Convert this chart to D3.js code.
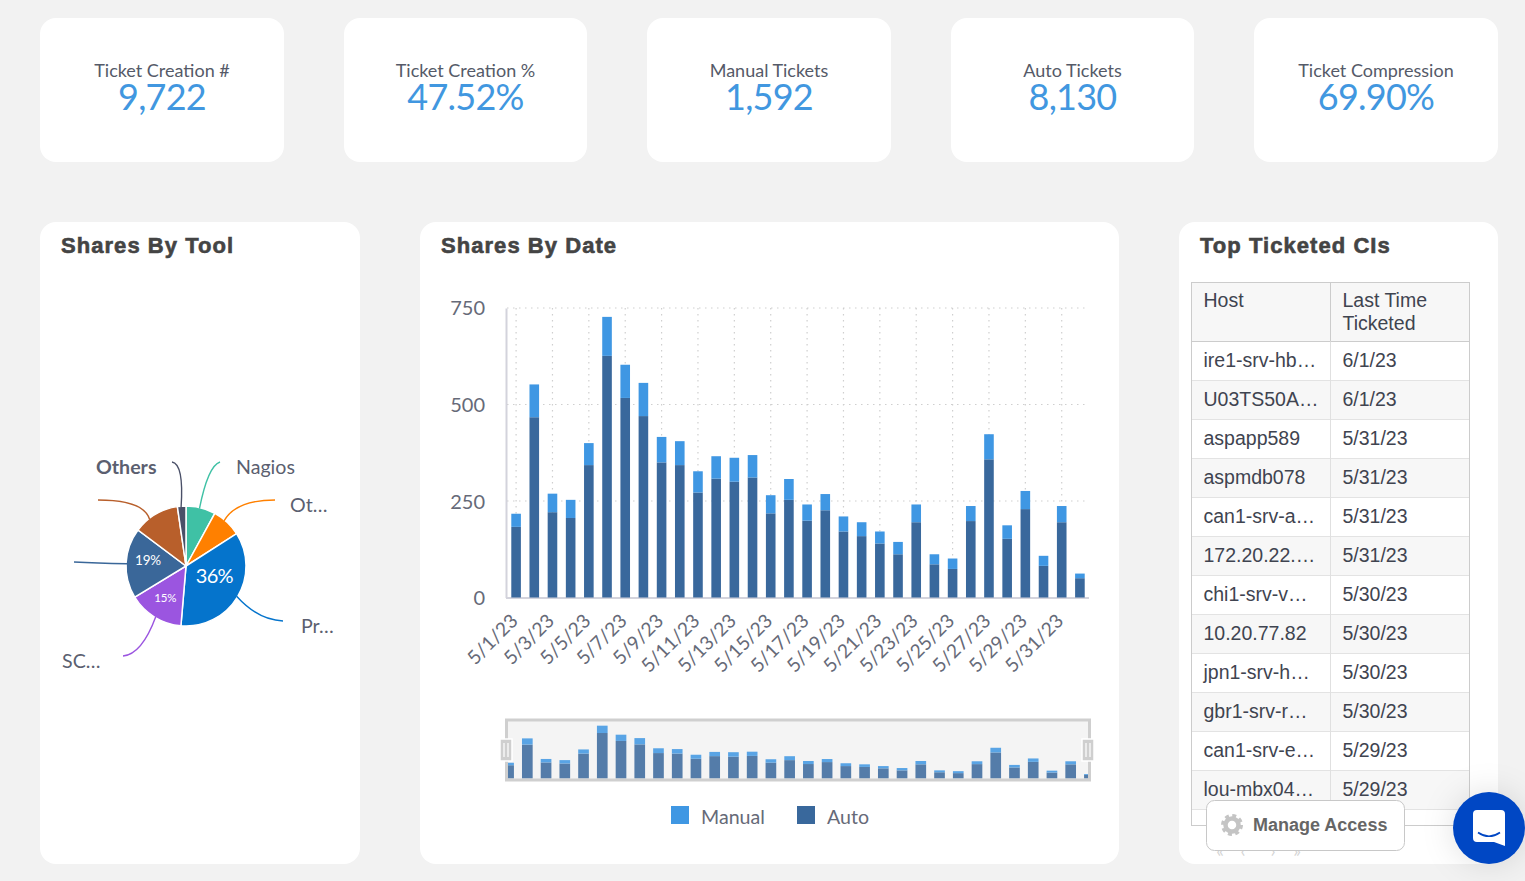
<!DOCTYPE html>
<html><head><meta charset="utf-8">
<script src="https://cdn.jsdelivr.net/npm/d3@7/dist/d3.min.js"></script>
<style>
html,body{margin:0;padding:0;background:#f2f2f2;overflow:hidden}
svg{display:block}
text{font-family:Lato,sans-serif}
.title{font-family:"Liberation Sans",Arial,sans-serif;font-weight:700;font-size:22px;letter-spacing:1.05px;fill:#444;stroke:#444;stroke-width:.6px}
.tbl{font-family:"Liberation Sans",Arial,sans-serif;font-size:19.5px;fill:#3f4450}
</style></head><body>
<svg id="c" width="1525" height="881"></svg>
<script>
// ---------- data ----------
const kpiTitles = ["Ticket Creation #","Ticket Creation %","Manual Tickets","Auto Tickets","Ticket Compression"];
const kpiValues = ["9,722","47.52%","1,592","8,130","69.90%"];
const dates = ["5/1/23","5/2/23","5/3/23","5/4/23","5/5/23","5/6/23","5/7/23","5/8/23","5/9/23","5/10/23","5/11/23","5/12/23","5/13/23","5/14/23","5/15/23","5/16/23","5/17/23","5/18/23","5/19/23","5/20/23","5/21/23","5/22/23","5/23/23","5/24/23","5/25/23","5/26/23","5/27/23","5/28/23","5/29/23","5/30/23","5/31/23","6/1/23"];
const autoVals = [183,467,221,206,343,626,517,470,350,343,272,308,300,311,218,253,199,226,171,159,140,112,195,86,74,198,358,152,229,82,195,50];
const manualVals = [34,85,48,47,57,101,86,86,66,62,55,58,62,58,47,54,42,42,39,36,31,32,46,26,27,39,65,35,47,26,42,12];
const toolNames = ["Nagios","Ot…","Pr…","SC…","","","Others"];
const toolShares = [8,8,35.5,15,19,12.5,2.3];
const toolPct = ["","","36%","15%","19%","",""];
const hosts = ["ire1-srv-hb…","U03TS50A…","aspapp589","aspmdb078","can1-srv-a…","172.20.22.…","chi1-srv-v…","10.20.77.82","jpn1-srv-h…","gbr1-srv-r…","can1-srv-e…","lou-mbx04…"];
const lastTicketed = ["6/1/23","6/1/23","5/31/23","5/31/23","5/31/23","5/31/23","5/30/23","5/30/23","5/30/23","5/30/23","5/29/23","5/29/23"];
const yTicks = [0,250,500,750];

// ---------- layout / style ----------
const svg = d3.select("#c");
const cM="#3f97e3", cA="#39689c", gridC="#cfcfcf", axisTxt="#666a78";
const toolColors = ["#3fc1a5","#ff8000","#0574cc","#9b55e0","#3a6799","#b85f2b","#4a5068"];

const kpiX=[40,344,647,951,1254], kpiW=[244,243,244,243,244];
const kpi = svg.selectAll("g.kpi").data(kpiTitles).join("g").attr("class","kpi");
kpi.append("rect").attr("x",(d,i)=>kpiX[i]).attr("y",18).attr("width",(d,i)=>kpiW[i]).attr("height",144).attr("rx",16).attr("fill","#fff");
kpi.append("text").attr("x",(d,i)=>kpiX[i]+kpiW[i]/2).attr("y",77).attr("text-anchor","middle").attr("font-size",18).attr("fill","#555a68").text(d=>d);
kpi.append("text").attr("x",(d,i)=>kpiX[i]+kpiW[i]/2).attr("y",110).attr("text-anchor","middle").attr("font-size",36).attr("letter-spacing",-.75).attr("fill","#4197e0").text((d,i)=>kpiValues[i]);

[[40,320,"Shares By Tool",61],[420,699,"Shares By Date",441],[1179,319,"Top Ticketed CIs",1200]].forEach(([x,w,t,tx])=>{
  svg.append("rect").attr("x",x).attr("y",222).attr("width",w).attr("height",642).attr("rx",16).attr("fill","#fff");
  svg.append("text").attr("class","title").attr("x",tx).attr("y",253).text(t);
});

// ---------- pie ----------
const cx=186, cy=566, R=60;
const pie = d3.pie().sort(null).value(d=>d)(toolShares);
const arc = d3.arc().innerRadius(0).outerRadius(R);
const pg = svg.append("g").attr("transform",`translate(${cx},${cy})`);
pg.selectAll("path").data(pie).join("path").attr("d",arc).attr("fill",(d,i)=>toolColors[i]).attr("stroke","#fff").attr("stroke-width",1.5);

const leaderEnd=[[34,-104],[89,-66],[97,55],[-63,90],[-112,-4],[-88,-66],[-14,-104]];
const leaderCtl=[[22,-100],[50,-66],[72,54],[-44,88],[-90,-3],[-42,-66],[-2,-102]];
const leaderAng=[.23,.70,2.11,3.68,4.75,5.62,6.2];
leaderEnd.forEach((e,i)=>{
  const s=d3.pointRadial(leaderAng[i],R-1);
  const p=d3.path(); p.moveTo(s[0],s[1]); p.quadraticCurveTo(leaderCtl[i][0],leaderCtl[i][1],e[0],e[1]);
  pg.append("path").attr("d",p.toString()).attr("fill","none").attr("stroke",toolColors[i]).attr("stroke-width",1.4);
});
const nameX=[236,290,301,62,0,0,96], nameY=[474,512,633,668,0,0,474];
toolNames.forEach((n,i)=>{ if(!n) return;
  svg.append("text").attr("x",nameX[i]).attr("y",nameY[i]).attr("font-size",19.6).attr("font-weight",i===6?700:400).attr("fill","#5b5f70").text(n);
});
const pctSize=[0,0,20,11.5,13.5,0,0], pctR=[0,0,30,38,38.5,0,0], pctAng=[0,0,1.9,3.72,4.87,0,0], pctLs=[0,0,-.7,-.2,-.2,0,0];
toolPct.forEach((t,i)=>{ if(!t) return;
  const q=d3.pointRadial(pctAng[i],pctR[i]);
  pg.append("text").attr("x",q[0]).attr("y",q[1]).attr("dy",".36em").attr("text-anchor","middle").attr("font-size",pctSize[i]).attr("letter-spacing",pctLs[i]).attr("fill","#fff").text(t);
});

// ---------- main stacked bars ----------
const x = d3.scaleBand().domain(dates).range([507,1089]).paddingInner(.5).paddingOuter(.25);
const y = d3.scaleLinear().domain([0,750]).range([597.5,308]);
const g = svg.append("g");
// grid
g.selectAll("line.h").data(yTicks.slice(1)).join("line").attr("x1",507).attr("x2",1087).attr("y1",d=>y(d)).attr("y2",d=>y(d)).attr("stroke",gridC).attr("stroke-dasharray","1.5,4.5").attr("stroke-width",1.2);
const oddDates = dates.filter((d,i)=>i%2===0);
g.selectAll("line.v").data(oddDates).join("line").attr("x1",d=>x(d)+x.bandwidth()/2).attr("x2",d=>x(d)+x.bandwidth()/2).attr("y1",308).attr("y2",597).attr("stroke",gridC).attr("stroke-dasharray","1.5,4.5").attr("stroke-width",1.2);
// axes
const ya = g.append("g").attr("transform","translate(506,0)").call(d3.axisLeft(y).tickValues(yTicks).tickSize(0).tickPadding(21));
ya.select(".domain").attr("stroke","#d3d3dc").attr("stroke-width",2);
ya.selectAll("text").attr("font-size",20).attr("fill",axisTxt).style("font-family","Lato").attr("transform",d=>`translate(0,${d===750?0:1})`);
const xa = g.append("g").attr("transform","translate(0,598)").call(d3.axisBottom(x).tickValues(oddDates).tickSize(0).tickPadding(0));
xa.select(".domain").attr("stroke","#d3d3dc").attr("stroke-width",2).attr("d","M506,0H1089");
xa.selectAll("text").attr("font-size",19.2).attr("fill",axisTxt).style("font-family","Lato").attr("text-anchor","end").attr("dy",0).attr("transform","translate(3,24) rotate(-45)");
// bars
const w = 9.6;
const bc = d=>x(d)+x.bandwidth()/2-w/2;
g.selectAll("rect.a").data(dates).join("rect").attr("x",bc).attr("width",w).attr("y",(d,i)=>y(autoVals[i])).attr("height",(d,i)=>y(0)-y(autoVals[i])).attr("fill",cA);
g.selectAll("rect.m").data(dates).join("rect").attr("x",bc).attr("width",w).attr("y",(d,i)=>y(autoVals[i]+manualVals[i])).attr("height",(d,i)=>y(autoVals[i])-y(autoVals[i]+manualVals[i])).attr("fill",cM);

// ---------- navigator ----------
const nx = d3.scaleBand().domain(dates).range([499.5,1098.5]).paddingInner(.43).paddingOuter(.2);
const ny = d3.scaleLinear().domain([0,750]).range([778.5,724]);
const n = svg.append("g");
svg.append("clipPath").attr("id","nav").append("rect").attr("x",507).attr("y",720).attr("width",582).attr("height",60);
n.append("rect").attr("x",507).attr("y",720).attr("width",582).attr("height",60).attr("fill","#f4f4f4");
const nb = n.append("g").attr("clip-path","url(#nav)").attr("opacity",.85);
nb.selectAll("rect.a").data(dates).join("rect").attr("x",d=>nx(d)).attr("width",nx.bandwidth()).attr("y",(d,i)=>ny(autoVals[i])).attr("height",(d,i)=>ny(0)-ny(autoVals[i])).attr("fill",cA);
nb.selectAll("rect.m").data(dates).join("rect").attr("x",d=>nx(d)).attr("width",nx.bandwidth()).attr("y",(d,i)=>ny(autoVals[i]+manualVals[i])).attr("height",(d,i)=>ny(autoVals[i])-ny(autoVals[i]+manualVals[i])).attr("fill",cM);
n.append("path").attr("d","M506.5,745V720H1089.5V745").attr("fill","none").attr("stroke","#cfcfcf").attr("stroke-width",3);
n.append("path").attr("d","M506.5,755V780H1089.5V755").attr("fill","none").attr("stroke","#cfcfcf").attr("stroke-width",3);
[506,1088].forEach(hx=>{
  n.append("rect").attr("x",hx-6).attr("y",739).attr("width",12).attr("height",22).attr("fill","#cfcfcf").attr("stroke","#fff").attr("stroke-width",1.5);
  [-2,2].forEach(o=>n.append("line").attr("x1",hx+o).attr("x2",hx+o).attr("y1",743).attr("y2",757).attr("stroke","#fff").attr("stroke-width",1.2));
});

// legend
const legNames=["Manual","Auto"], legCol=[cM,cA], legX=[671,797];
legNames.forEach((t,i)=>{
  svg.append("rect").attr("x",legX[i]).attr("y",806).attr("width",18).attr("height",18).attr("fill",legCol[i]);
  svg.append("text").attr("x",legX[i]+30).attr("y",824).attr("font-size",19.6).attr("fill",axisTxt).text(t);
});

// ---------- table ----------
const tx0=1191.5, tx1=1330.5, tx2=1469.5, ty0=282.5, ty1=341.5, rh=39, tyEnd=825.5;
const t = svg.append("g");
t.append("rect").attr("x",tx0).attr("y",ty0).attr("width",tx2-tx0).attr("height",ty1-ty0).attr("fill","#f7f7f7");
const rowY=d3.scaleLinear().domain([0,1]).range([ty1,ty1+rh]);
t.selectAll("rect.r").data(hosts).join("rect").attr("x",tx0).attr("width",tx2-tx0).attr("y",(d,i)=>rowY(i)).attr("height",rh).attr("fill",(d,i)=>i%2?"#f7f7f7":"#fff");
t.selectAll("line.r").data(d3.range(0,13)).join("line").attr("x1",tx0).attr("x2",tx2).attr("y1",d=>rowY(d)).attr("y2",d=>rowY(d)).attr("stroke",d=>d===0?"#ccc":"#e3e3e3").attr("stroke-width",1);
t.append("line").attr("x1",tx1).attr("x2",tx1).attr("y1",ty0).attr("y2",tyEnd).attr("stroke","#e0e0e0");
t.append("line").attr("x1",tx1).attr("x2",tx1).attr("y1",ty0).attr("y2",ty1).attr("stroke","#ccc");
t.append("rect").attr("x",tx0).attr("y",ty0).attr("width",tx2-tx0).attr("height",tyEnd-ty0).attr("fill","none").attr("stroke","#ccc");
const hdr=(s,x0,yy)=>t.append("text").attr("class","tbl").attr("x",x0).attr("y",yy).text(s);
hdr("Host",1203.5,307); hdr("Last Time",1342.5,307); hdr("Ticketed",1342.5,330);
t.selectAll("text.h").data(hosts).join("text").attr("class","tbl").attr("x",1203.5).attr("y",(d,i)=>rowY(i)+25.5).text(d=>d);
t.selectAll("text.d").data(lastTicketed).join("text").attr("class","tbl").attr("x",1342.5).attr("y",(d,i)=>rowY(i)+25.5).text(d=>d);

// pagination remnants + button
["«","‹","›","»"].forEach((c,i)=>svg.append("text").attr("x",[1220,1243,1273,1297][i]).attr("y",857).attr("text-anchor","middle").attr("font-size",18).attr("fill","#d5d5d5").text(c));
const b = svg.append("g");
b.append("rect").attr("x",1206.5).attr("y",800.5).attr("width",198).attr("height",50).attr("rx",8).attr("fill","#fff").attr("stroke","#c8c8c8");
b.append("circle").attr("cx",1232).attr("cy",825).attr("r",6.5).attr("fill","none").attr("stroke","#c4c4c4").attr("stroke-width",4.5);
b.append("circle").attr("cx",1232).attr("cy",825).attr("r",9.5).attr("fill","none").attr("stroke","#c4c4c4").attr("stroke-width",3).attr("stroke-dasharray","4 3.46");
b.append("text").attr("x",1253).attr("y",831).style("font-family","'Liberation Sans',Arial").attr("font-weight",700).attr("font-size",18).attr("fill","#666").text("Manage Access");

// chat launcher
const ch = svg.append("g");
ch.append("circle").attr("cx",1489).attr("cy",828).attr("r",36).attr("fill","#0047c4").style("filter","drop-shadow(0 0 16px rgba(0,0,0,.12))");
ch.append("path").attr("d","M1477,810H1501A4,4 0 0 1 1505,814V846L1494,842H1477A4,4 0 0 1 1473,838V814A4,4 0 0 1 1477,810Z").attr("fill","#fff");
ch.append("path").attr("d","M1478,832.5Q1489,840 1500,832.5").attr("fill","none").attr("stroke","#0047c4").attr("stroke-width",1.6);
</script>
</body></html>
